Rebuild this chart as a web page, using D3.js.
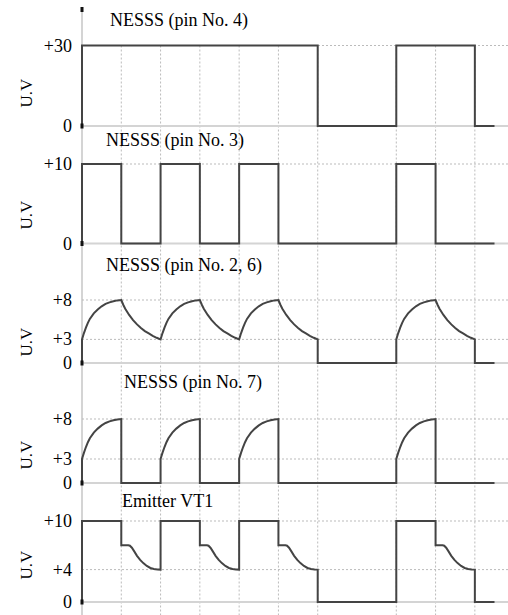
<html>
<head>
<meta charset="utf-8">
<script src="https://cdn.jsdelivr.net/npm/d3@7"></script>
</head>
<body style="margin:0">
<script>
// panel titles and y tick values
const titles = ["NESSS (pin No. 4)", "NESSS (pin No. 3)", "NESSS (pin No. 2, 6)", "NESSS (pin No. 7)", "Emitter VT1"];
const yTicks = [[0, 30], [0, 10], [0, 3, 8], [0, 3, 8], [0, 4, 10]];
const yMax = [30, 10, 8, 8, 10];
const gridTimes = [1, 2, 3, 4, 5, 6, 8, 9, 10];

// shapes (time offset, volts)
const chargeShape = [[0, 3], [0.05, 3.8], [0.1, 4.5], [0.15, 5.1], [0.2, 5.6], [0.3, 6.3], [0.4, 6.8], [0.5, 7.2], [0.6, 7.5], [0.7, 7.7], [0.8, 7.85], [0.9, 7.95], [1, 8]];
const dischargeShape = [[0, 8], [0.05, 7.4], [0.1, 6.9], [0.2, 6.1], [0.3, 5.45], [0.4, 4.9], [0.5, 4.45], [0.6, 4.05], [0.7, 3.75], [0.8, 3.45], [0.9, 3.2], [1, 3]];
const emitterDrop = [[0, 7], [0.18, 7], [0.22, 6.95], [0.27, 6.7], [0.33, 6.25], [0.4, 5.7], [0.48, 5.2], [0.56, 4.8], [0.65, 4.45], [0.74, 4.2], [0.83, 4.07], [0.92, 4.02], [1, 4]];

const at = (shape, t0) => shape.map(([t, v]) => [t + t0, v]);

const pin4 = [[0, 0], [0, 30], [6, 30], [6, 0], [8, 0], [8, 30], [10, 30], [10, 0], [10.5, 0]];
const pin3 = [[0, 0], [0, 10], [1, 10], [1, 0], [2, 0], [2, 10], [3, 10], [3, 0], [4, 0], [4, 10], [5, 10], [5, 0],
              [8, 0], [8, 10], [9, 10], [9, 0], [10.5, 0]];
const pin26 = [[0, 0], ...at(chargeShape, 0), ...at(dischargeShape, 1), ...at(chargeShape, 2), ...at(dischargeShape, 3),
               ...at(chargeShape, 4), ...at(dischargeShape, 5), [6, 0], [8, 0], ...at(chargeShape, 8), ...at(dischargeShape, 9),
               [10, 0], [10.5, 0]];
const pin7 = [[0, 0], ...at(chargeShape, 0), [1, 0], [2, 0], ...at(chargeShape, 2), [3, 0], [4, 0], ...at(chargeShape, 4),
              [5, 0], [8, 0], ...at(chargeShape, 8), [9, 0], [10.5, 0]];
const emitter = [[0, 0], [0, 10], [1, 10], ...at(emitterDrop, 1), [2, 10], [3, 10], ...at(emitterDrop, 3), [4, 10], [5, 10],
                 ...at(emitterDrop, 5), [6, 0], [8, 0], [8, 10], [9, 10], ...at(emitterDrop, 9), [10, 0], [10.5, 0]];
const series = [pin4, pin3, pin26, pin7, emitter];

// layout
const width = 508, height = 615;
const axisX = 82;
const panelZero = [126, 243.5, 363, 483, 602];
const panelTop = [45.5, 164, 300, 419, 521];
const titleX = [110, 106, 106, 124, 122];
const titleY = [26, 146, 271, 388, 507];
const labelY = [93, 215, 342, 455, 565];

const x = d3.scaleLinear().domain([0, 10.5]).range([axisX, 494.5]);
const yScales = series.map((s, i) => d3.scaleLinear().domain([0, yMax[i]]).range([panelZero[i], panelTop[i]]));

const svg = d3.select("body").append("svg")
  .attr("width", width)
  .attr("height", height);

// vertical dotted grid
svg.selectAll(".vgrid")
  .data(gridTimes)
  .enter()
  .append("line")
  .attr("class", "vgrid")
  .attr("x1", d => x(d)).attr("x2", d => x(d))
  .attr("y1", panelTop[0]).attr("y2", height)
  .attr("stroke", "#bbb")
  .attr("stroke-width", 1)
  .attr("stroke-dasharray", "2,2");

// y axis line
svg.append("line")
  .attr("x1", axisX).attr("x2", axisX)
  .attr("y1", 8).attr("y2", height)
  .attr("stroke", "#d4d4d4")
  .attr("stroke-width", 2);
svg.append("rect")
  .attr("x", axisX - 1.5).attr("y", 7).attr("width", 3).attr("height", 5)
  .attr("fill", "#111");

const line = d3.line();

series.forEach((data, i) => {
  const y = yScales[i];
  const g = svg.append("g");

  // horizontal dotted grid
  g.selectAll(".hgrid")
    .data(yTicks[i].filter(v => v > 0))
    .enter()
    .append("line")
    .attr("x1", axisX).attr("x2", width)
    .attr("y1", d => y(d)).attr("y2", d => y(d))
    .attr("stroke", "#bbb")
    .attr("stroke-width", 1)
    .attr("stroke-dasharray", "2,2");

  // zero baseline
  g.append("line")
    .attr("x1", axisX).attr("x2", width)
    .attr("y1", y(0)).attr("y2", y(0))
    .attr("stroke", "#d4d4d4")
    .attr("stroke-width", 2);

  // signal
  g.append("path")
    .datum(data)
    .attr("d", line.x(d => x(d[0])).y(d => y(d[1])))
    .attr("fill", "none")
    .attr("stroke", "#444")
    .attr("stroke-width", 2)
    .attr("stroke-linejoin", "miter");

  // origin dot
  g.append("rect")
    .attr("x", axisX - 1.5).attr("y", y(0) - 2.5).attr("width", 3).attr("height", 5)
    .attr("fill", "#111");
});

// all texts in one join, straight on the svg
const labels = [];
yTicks.forEach((ticks, i) => {
  ticks.forEach(v => labels.push({ text: v === 0 ? "0" : "+" + v, x: axisX - 10, y: yScales[i](v) + 6, size: 18, anchor: "end" }));
  labels.push({ text: titles[i], x: titleX[i], y: titleY[i], size: 18, anchor: "start" });
  labels.push({ text: "U.V", x: 32, y: labelY[i], size: 17, anchor: "middle", rot: true });
});

svg.selectAll("text")
  .data(labels)
  .enter()
  .append("text")
  .attr("x", d => d.rot ? 0 : d.x)
  .attr("y", d => d.rot ? 0 : d.y)
  .attr("transform", d => d.rot ? `translate(${d.x},${d.y}) rotate(-90)` : null)
  .attr("text-anchor", d => d.anchor)
  .attr("font-size", d => d.size)
  .style("font-family", d => "Liberation Serif")
  .text(d => d.text);
</script>
</body>
</html>
